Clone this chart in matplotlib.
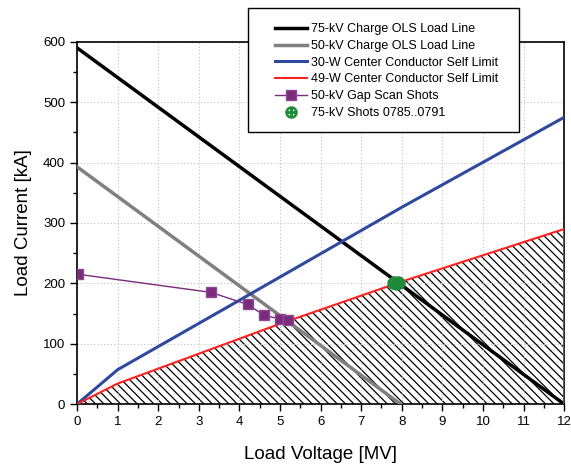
"""
Load line vs. center conductor self limit chart -> out.png
"""
import matplotlib

matplotlib.use("Agg")
import matplotlib.pyplot as plt
from matplotlib.patches import Rectangle
from matplotlib.ticker import MultipleLocator

plt.rcParams["font.family"] = ["Liberation Sans", "DejaVu Sans"]
plt.rcParams["hatch.linewidth"] = 0.9

# load lines (MV, kA)
ols75_v = [0, 12]
ols75_i = [590, 0]
ols50_v = [0, 7.97]
ols50_i = [393, 0]

# center conductor self limits
lim30_v = [0, 1, 4, 8, 12]
lim30_i = [0, 57, 172, 326, 475]
lim49_v = [0, 1, 5, 8, 12]
lim49_i = [0, 34, 133, 203, 290]

# shots
gap_v = [0.03, 3.30, 4.20, 4.61, 5.00, 5.20]
gap_i = [215, 185, 165, 147, 141, 139]
shots75_v = [7.78, 7.82, 7.86, 7.90, 7.94]
shots75_i = [200, 202, 199, 202, 200]

fig = plt.figure(figsize=(5.71, 4.65), dpi=100)
ax = fig.add_axes([0.135, 0.131, 0.853, 0.779])

ax.fill_between(lim49_v, 0, lim49_i, facecolor="none", edgecolor="black",
                hatch="\\\\\\\\", linewidth=0, zorder=1)

ax.plot(ols75_v, ols75_i, color="black", lw=2.5, label="75-kV Charge OLS Load Line", zorder=3)
ax.plot(ols50_v, ols50_i, color="#808080", lw=2.5, label="50-kV Charge OLS Load Line", zorder=3)
ax.plot(lim30_v, lim30_i, color="#2E4A9E", lw=2.2, label="30-W Center Conductor Self Limit", zorder=3)
ax.plot(lim49_v + [lim49_v[-1]], lim49_i + [0], color="#FF2020", lw=1.5,
        label="49-W Center Conductor Self Limit", zorder=3)
ax.plot(gap_v, gap_i, color="#7B2A7E", lw=1, marker="s", ms=7.5,
        mfc="#7B2A7E", mec="#8E4A90", label="50-kV Gap Scan Shots", zorder=4)
ax.plot(shots75_v, shots75_i, ls="none", marker=r"$\oplus$", ms=8,
        color="#1E8A3A", label="75-kV Shots 0785..0791", zorder=5)

ax.set_xlim(0, 12)
ax.set_ylim(0, 600)
ax.xaxis.set_major_locator(MultipleLocator(1))
ax.xaxis.set_minor_locator(MultipleLocator(0.5))
ax.yaxis.set_major_locator(MultipleLocator(100))
ax.yaxis.set_minor_locator(MultipleLocator(50))
ax.tick_params(which="both", direction="out", top=False, right=False, labelsize=9.5)
ax.tick_params(which="major", length=5, width=1)
ax.tick_params(which="minor", length=3, width=1)
ax.grid(which="major", ls=(0, (1, 2)), color="#C0C0C0", lw=0.8)
for s in ax.spines.values():
    s.set_linewidth(1.2)

ax.set_xlabel("Load Voltage [MV]", fontsize=13.5, labelpad=13)
ax.set_ylabel("Load Current [kA]", fontsize=13.5, labelpad=8)

# legend box drawn separately so it can be wider than its contents
fig.patches.append(Rectangle((0.434, 0.716), 0.475, 0.267, transform=fig.transFigure,
                             facecolor="white", edgecolor="black", lw=1, zorder=9))
leg = fig.legend(loc="upper left", bbox_to_anchor=(0.4816, 0.950), fontsize=9,
                 frameon=False, handlelength=2.6, handletextpad=0.25,
                 labelspacing=0.38, borderpad=0, borderaxespad=0)
leg.set_zorder(10)

fig.savefig("out.png", dpi=100)
